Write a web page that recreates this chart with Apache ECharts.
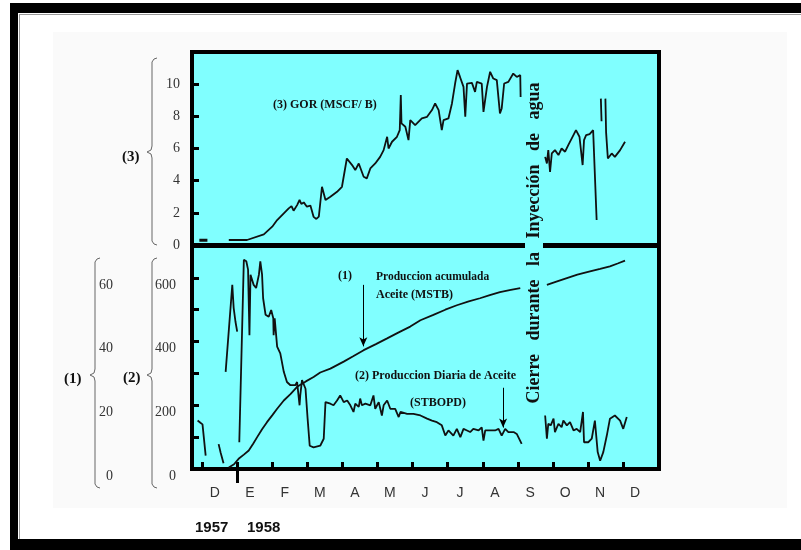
<!DOCTYPE html>
<html><head><meta charset="utf-8">
<script src="https://cdn.jsdelivr.net/npm/echarts@6/dist/echarts.min.js"></script>
<style>html,body{margin:0;padding:0;background:#fff}#c{width:801px;height:550px}</style>
</head><body><div id="c"></div>
<script>
// x unit: months counted from 1 Dec 1957 (0 = 1 Dec 1957, 1 = 1 Jan 1958 ...)
const monthLabels = ['D','E','F','M','A','M','J','J','A','S','O','N','D'];
const monthTicks = [0,1,2,3,4,5,6,7,8,9,10,11,12];
const yearLabels = ['1957','1958'];
const gorTickLabels = [0,2,4,6,8,10];
const dailyTickLabels = [0,200,400,600];
const cumTickLabels = [0,20,40,60];

// (3) GOR (MSCF/B)
const gor1 = [[-0.09,0.3],[0.14,0.3]];
const gor2 = [[0.75,0.31],[1.27,0.31],[1.75,0.66],[1.99,1.14],[2.13,1.55],[2.32,1.97],[2.46,2.28],[2.54,2.42],[2.60,2.13],[2.70,2.48],[2.77,2.8],[2.82,2.55],[2.89,2.65],[2.98,2.38],[3.08,2.45],[3.17,1.75],[3.25,1.62],[3.32,1.76],[3.41,3.62],[3.51,2.8],[3.65,3.0],[3.84,3.31],[3.98,3.62],[4.12,5.38],[4.27,4.97],[4.36,4.66],[4.46,5.07],[4.60,4.24],[4.69,4.14],[4.79,4.76],[4.93,5.07],[5.07,5.48],[5.17,5.9],[5.27,6.73],[5.31,6.0],[5.41,6.42],[5.55,6.73],[5.63,7.14],[5.66,9.32],[5.68,7.56],[5.79,7.35],[5.88,6.52],[5.93,7.76],[6.07,7.45],[6.26,7.87],[6.41,7.97],[6.55,8.39],[6.64,8.8],[6.74,8.39],[6.83,7.14],[6.88,7.76],[7.02,7.87],[7.12,8.8],[7.21,10.04],[7.28,10.87],[7.35,10.45],[7.45,9.83],[7.50,7.97],[7.55,10.04],[7.69,10.08],[7.78,9.52],[7.83,10.14],[7.97,10.04],[8.02,8.28],[8.12,9.83],[8.21,10.77],[8.30,10.35],[8.40,10.25],[8.49,8.18],[8.54,8.49],[8.61,10.04],[8.73,10.14],[8.87,10.66],[8.97,10.45],[9.07,10.56],[9.08,9.2]];
const gor3 = [[9.78,5.48],[9.83,5.07],[9.87,5.9],[9.92,4.55],[9.97,5.69],[10.06,5.9],[10.16,5.59],[10.25,6.0],[10.35,5.8],[10.44,6.21],[10.54,6.63],[10.66,7.14],[10.76,6.73],[10.85,4.97],[10.89,6.52],[10.95,6.83],[11.05,6.9],[11.15,7.14],[11.25,1.55]];
const gor4 = [[11.37,9.1],[11.39,7.7]];
const gor5 = [[11.50,9.1],[11.52,7.0],[11.57,5.38],[11.68,5.69],[11.77,5.48],[11.92,5.9],[12.06,6.42]];

// (1) Produccion acumulada Aceite (MSTB)
const cum1 = [[0.75,0.5],[0.9,1.5],[1.03,3.2],[1.18,4.5],[1.32,5.8],[1.45,8.0],[1.56,10.0],[1.70,12.5],[1.84,14.7],[2.0,17.0],[2.13,18.9],[2.32,21.5],[2.51,23.5],[2.70,25.8],[2.95,27.5],[3.17,28.9],[3.36,30.3],[3.65,31.5],[4.03,33.7],[4.30,35.4],[4.60,37.3],[4.95,39.2],[5.27,41.0],[5.60,42.9],[5.93,44.7],[6.22,46.7],[6.59,48.4],[6.93,50.0],[7.26,51.4],[7.60,52.6],[7.92,53.6],[8.20,54.6],[8.49,55.5],[8.80,56.2],[9.07,56.8]];
const cum2 = [[9.83,57.8],[10.10,58.8],[10.40,59.9],[10.70,61.0],[11.06,62.0],[11.35,62.8],[11.63,63.6],[11.85,64.5],[12.06,65.4]];

// (2) Produccion Diaria de Aceite (STBOPD)
const daily1 = [[-0.14,152],[-0.06,145],[0.0,140],[0.09,42]];
const daily2 = [[0.46,78],[0.52,50],[0.60,18]];
const daily3 = [[0.66,305],[0.85,578],[0.89,505],[0.94,463],[0.99,431]];
const daily4 = [[1.05,84],[1.18,657],[1.25,652],[1.30,626],[1.34,420],[1.37,610],[1.46,578],[1.53,568],[1.61,610],[1.65,652],[1.70,610],[1.73,536],[1.80,484],[1.89,478],[1.96,499],[2.02,473],[2.03,420],[2.06,473],[2.13,384],[2.22,363],[2.32,305],[2.41,273],[2.51,263],[2.65,263],[2.70,273],[2.77,200],[2.79,231],[2.84,279],[2.94,252],[3.00,158],[3.06,73],[3.17,68],[3.36,73],[3.46,95],[3.51,210],[3.65,205],[3.74,200],[3.84,215],[3.93,231],[4.03,210],[4.13,215],[4.22,200],[4.31,179],[4.36,205],[4.46,195],[4.50,221],[4.55,200],[4.65,205],[4.79,200],[4.88,231],[4.93,189],[5.03,210],[5.12,168],[5.17,200],[5.27,215],[5.36,189],[5.50,189],[5.60,163],[5.65,179],[5.84,173],[6.02,173],[6.22,168],[6.41,158],[6.55,152],[6.69,147],[6.83,137],[6.93,105],[7.02,121],[7.16,105],[7.26,126],[7.36,100],[7.45,126],[7.55,121],[7.64,116],[7.73,126],[7.88,121],[7.97,131],[8.02,89],[8.07,121],[8.21,121],[8.35,121],[8.45,126],[8.54,105],[8.64,126],[8.73,116],[8.88,116],[8.97,110],[9.11,79]];
const daily5 = [[9.78,168],[9.83,95],[9.87,142],[9.94,137],[10.02,158],[10.06,116],[10.16,142],[10.25,131],[10.30,152],[10.40,137],[10.49,147],[10.59,121],[10.68,126],[10.78,116],[10.86,179],[10.89,84],[11.01,84],[11.11,95],[11.20,152],[11.28,53],[11.35,26],[11.44,53],[11.54,105],[11.63,158],[11.77,168],[11.92,152],[12.01,126],[12.11,163]];

const INK = '#111';
const CYAN = '#80ffff';
const X_MIN = -0.3, X_MAX = 13.03;

function line(data, xi, yi, extra) {
  return Object.assign({
    type: 'line', data: data, xAxisIndex: xi, yAxisIndex: yi,
    showSymbol: false, symbol: 'none', silent: true, animation: false,
    lineStyle: { color: INK, width: 1.8 }, z: 5
  }, extra || {});
}
const arrowMark = (from, to) => ({
  silent: true, symbol: ['none', 'arrow'], symbolSize: [6, 9],
  lineStyle: { color: '#000', width: 1, type: 'solid' }, label: { show: false },
  data: [[{ coord: from }, { coord: to }]]
});

function brace(xm, top, mid, bot) {
  return { type: 'polyline', z: 10, shape: { points: [[xm+5,top],[xm+2,top+1],[xm,top+4],[xm,mid-6],[xm-1,mid-2],[xm-5,mid],[xm-1,mid+2],[xm,mid+6],[xm,bot-4],[xm+2,bot-1],[xm+5,bot]] }, style: { stroke: '#666', lineWidth: 1, fill: null } };
}
function txt(text, x, y, font, extra) {
  return Object.assign({ type: 'text', x: x, y: y, z: 20, style: { text: text, font: font, fill: '#111', align: 'left', verticalAlign: 'middle' } }, extra || {});
}
const serifBold = 'bold 12px "Liberation Serif"';
const yLabelStyle = { color: '#333', fontFamily: 'Liberation Serif', fontSize: 14 };
const noLine = { show: false, onZero: false };

const chart = echarts.init(document.getElementById('c'), null, { renderer: 'canvas' });
chart.setOption({
  animation: false,
  backgroundColor: '#ffffff',
  grid: [
    { left: 192, top: 52, width: 467, height: 193, show: true, backgroundColor: CYAN, borderColor: '#000', borderWidth: 4, z: 0 },
    { left: 192, top: 246, width: 467, height: 223, show: true, backgroundColor: CYAN, borderColor: '#000', borderWidth: 4, z: 0 }
  ],
  xAxis: [
    { gridIndex: 0, type: 'value', min: X_MIN, max: X_MAX, show: false },
    { gridIndex: 1, type: 'value', position: 'bottom', min: X_MIN, max: X_MAX, z: 3,
      axisLine: noLine, splitLine: { show: false },
      axisTick: { show: true, inside: true, length: 7, customValues: monthTicks, lineStyle: { color: '#000', width: 3 } },
      axisLabel: { show: true, margin: 17, customValues: monthTicks.map(v => v + 0.35),
        formatter: v => monthLabels[Math.floor(v)], color: '#333', fontFamily: 'Liberation Sans', fontSize: 14 } },
    { gridIndex: 1, type: 'value', position: 'bottom', min: X_MIN, max: X_MAX, z: 3,
      axisLine: noLine, splitLine: { show: false }, axisLabel: { show: false },
      axisTick: { show: true, inside: false, length: 14, customValues: [1], lineStyle: { color: '#000', width: 3 } } }
  ],
  yAxis: [
    { gridIndex: 0, type: 'value', position: 'left', min: 0, max: 12, interval: 2, z: 3,
      axisLine: noLine, splitLine: { show: false },
      axisTick: { show: true, inside: true, length: 7, lineStyle: { color: '#000', width: 3 } },
      axisLabel: Object.assign({ margin: 12, formatter: v => gorTickLabels.includes(v) ? String(v) : '' }, yLabelStyle) },
    { gridIndex: 1, type: 'value', position: 'left', min: 0, max: 700, interval: 100, z: 3,
      axisLine: noLine, splitLine: { show: false },
      axisTick: { show: true, inside: true, length: 7, lineStyle: { color: '#000', width: 3 } },
      axisLabel: Object.assign({ margin: 16, verticalAlign: 'top', formatter: v => dailyTickLabels.includes(v) ? String(v) : '' }, yLabelStyle) },
    { gridIndex: 1, type: 'value', position: 'left', offset: 0, min: 0, max: 70, interval: 10, z: 3,
      axisLine: noLine, splitLine: { show: false }, axisTick: { show: false },
      axisLabel: Object.assign({ margin: 79, verticalAlign: 'top', formatter: v => cumTickLabels.includes(v) ? String(v) : '' }, yLabelStyle) }
  ],
  series: [
    line(gor1, 0, 0, { lineStyle: { color: INK, width: 3 } }),
    line(gor2, 0, 0),
    line(gor3, 0, 0),
    line(gor4, 0, 0),
    line(gor5, 0, 0),
    line(cum1, 1, 2, { markLine: arrowMark([4.59, 57.8], [4.59, 38.5]) }),
    line(cum2, 1, 2),
    line(daily1, 1, 1),
    line(daily2, 1, 1),
    line(daily3, 1, 1),
    line(daily4, 1, 1, { markLine: arrowMark([8.58, 255], [8.58, 130]) }),
    line(daily5, 1, 1)
  ],
  graphic: [
    { type: 'rect', z: -1, shape: { x: 53, y: 32, width: 734, height: 476 }, style: { fill: '#fafafa' } },
    { type: 'rect', z: 30, shape: { x: 10, y: 3, width: 791, height: 10 }, style: { fill: '#000' } },
    { type: 'rect', z: 30, shape: { x: 10, y: 3, width: 8, height: 547 }, style: { fill: '#000' } },
    { type: 'rect', z: 30, shape: { x: 10, y: 539, width: 791, height: 11 }, style: { fill: '#000' } },
    { type: 'line', z: 30, shape: { x1: 19, y1: 14.5, x2: 801, y2: 14.5 }, style: { stroke: '#999', lineWidth: 1 } },
    { type: 'line', z: 30, shape: { x1: 19.5, y1: 14, x2: 19.5, y2: 539 }, style: { stroke: '#999', lineWidth: 1 } },
    brace(152, 58, 152, 245),
    brace(152, 258, 375, 488),
    brace(95, 258, 375, 488),
    txt('(3)', 122, 157, 'bold 15px "Liberation Serif"'),
    txt('(2)', 123, 378, 'bold 15px "Liberation Serif"'),
    txt('(1)', 64, 379, 'bold 15px "Liberation Serif"'),
    txt(yearLabels[0], 195, 528, 'bold 15px "Liberation Sans"'),
    txt(yearLabels[1], 247, 528, 'bold 15px "Liberation Sans"'),
    txt('(3) GOR (MSCF/ B)', 273, 105, serifBold),
    txt('(1)', 338, 276, serifBold),
    txt('Produccion acumulada', 376, 277, 'bold 11.5px "Liberation Serif"'),
    txt('Aceite (MSTB)', 376, 295, serifBold),
    txt('(2) Produccion Diaria de Aceite', 355, 376, serifBold),
    txt('(STBOPD)', 410, 403, serifBold),
    { type: 'text', x: 534, y: 243, rotation: Math.PI / 2, z: 25,
      style: { text: 'Cierre   durante   la   Inyección   de   agua', font: 'bold 18px "Liberation Serif"', fill: '#111',
        align: 'center', verticalAlign: 'middle', backgroundColor: CYAN, padding: [0, 4] } }
  ]
});
</script></body></html>
